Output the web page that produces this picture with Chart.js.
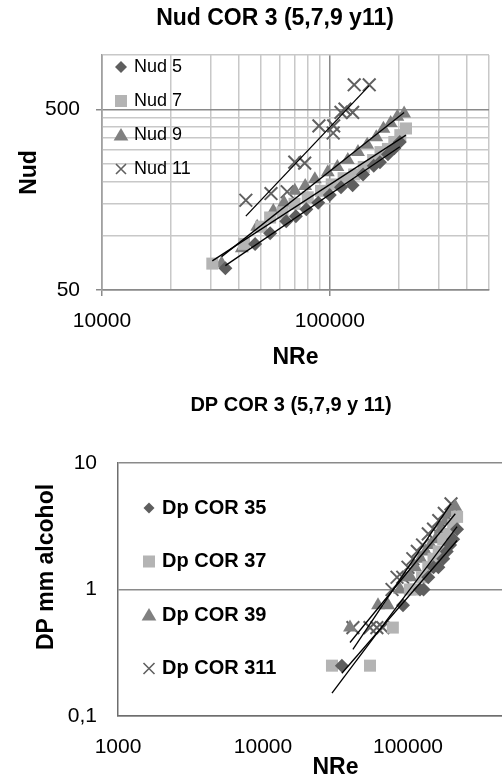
<!DOCTYPE html>
<html>
<head>
<meta charset="utf-8">
<script src="https://cdn.jsdelivr.net/npm/chart.js@4.4.1/dist/chart.umd.min.js"></script>
<style>
html, body { margin: 0; padding: 0; background: #fff; overflow: hidden; width: 502px; height: 778px; }
#top { position: absolute; left: 0; top: 0; }
#bottom { position: absolute; left: 0; top: 380px; }
</style>
</head>
<body>
<div id="top"><canvas id="nudChart" width="502" height="380"></canvas></div>
<div id="bottom"><canvas id="dpChart" width="580" height="402"></canvas></div>
<script>
// Nud vs NRe
const nre5 = [34800, 47000, 54700, 64400, 71000, 78900, 89000, 100000, 112000, 126000, 140000, 156000, 166000, 180000, 192000, 203000];
const nud5 = [66, 90, 103, 120, 128, 140, 152, 168, 185, 190, 218, 244, 255, 282, 305, 330];
const nre7 = [30500, 42000, 50000, 54700, 62000, 70000, 80000, 91500, 102000, 115000, 128000, 141000, 155000, 167000, 180000, 192000, 204000, 216000];
const nud7 = [70, 90, 112, 126, 134, 150, 163, 177, 192, 208, 218, 240, 262, 290, 302, 330, 360, 392];
const nre9 = [33500, 41100, 48000, 56500, 63000, 70200, 78000, 86000, 98000, 108000, 120000, 133000, 146000, 160000, 172000, 185000, 198000, 212000];
const nud9 = [70, 85, 112, 137, 152, 177, 188, 205, 224, 240, 262, 290, 318, 350, 390, 420, 455, 475];
const nre11 = [42800, 55200, 65000, 70200, 77600, 89600, 103500, 104000, 112000, 116600, 126000, 128000, 149000];
const nud11 = [157, 171, 175, 255, 252, 405, 370, 405, 481, 502, 481, 684, 684];

// DP vs NRe
const nreDp35 = [35000, 92400, 121000, 128000, 138000, 150000, 162000, 175000, 185000, 195000, 205000, 218000];
const dp35 = [0.25, 0.75, 1, 1, 1.25, 1.5, 1.5, 1.75, 2, 2.25, 2.5, 3];
const nreDp37 = [29900, 54700, 78600, 103000, 111700, 125000, 138000, 150000, 163000, 175000, 190000, 205000, 218000];
const dp37 = [0.25, 0.25, 0.5, 1, 1, 1.25, 1.5, 1.75, 2, 2.5, 2.75, 3.25, 3.75];
const nreDp39 = [39800, 62100, 72800, 88100, 95000, 104000, 112000, 122000, 132000, 143000, 155000, 168000, 182000, 196000, 212000];
const dp39 = [0.5, 0.75, 0.75, 1, 1.25, 1.25, 1.5, 1.75, 2, 2.25, 2.5, 3, 3.5, 4, 4.5];
const nreDp311 = [41700, 54700, 61000, 67000, 77600, 84000, 92000, 100000, 108000, 116000, 126000, 138000, 150000, 163000, 178000, 198000];
const dp311 = [0.5, 0.5, 0.5, 0.5, 1, 1.25, 1.25, 1.5, 1.75, 2, 2.25, 2.75, 3, 3.5, 4, 4.75];

// ticks
const nudXTicks = [10000, 20000, 30000, 40000, 50000, 60000, 70000, 80000, 90000, 100000, 200000, 300000, 400000, 500000];
const nudXLabeled = [10000, 100000];
const nudYTicks = [50, 100, 150, 200, 250, 300, 350, 400, 450, 500, 1000];
const nudYLabeled = [50, 500];
const dpXTicks = [1000, 10000, 100000, 1000000];
const dpXLabeled = [1000, 10000, 100000];
const dpYTicks = [0.1, 1, 10];
const dpYLabels = ['0,1', '1', '10'];

const FONT = "'Liberation Sans', Arial, sans-serif";
Chart.defaults.font.family = FONT;
Chart.defaults.color = '#000';

const DARK = '#5e5e5e', LIGHT = '#b4b4b4', MID = '#808080', CROSS = '#606060';

function powerFit(xs, ys) {
    const lx = xs.map(Math.log10), ly = ys.map(Math.log10);
    const n = xs.length;
    const mx = lx.reduce((a, b) => a + b, 0) / n;
    const my = ly.reduce((a, b) => a + b, 0) / n;
    let sxy = 0, sxx = 0;
    for (let i = 0; i < n; i++) {
        sxy += (lx[i] - mx) * (ly[i] - my);
        sxx += (lx[i] - mx) * (lx[i] - mx);
    }
    const b = sxy / sxx, a = my - b * mx;
    const x0 = Math.min(...xs), x1 = Math.max(...xs);
    return [
        { x: x0, y: Math.pow(10, a + b * Math.log10(x0)) },
        { x: x1, y: Math.pow(10, a + b * Math.log10(x1)) }
    ];
}

function pointSet(label, xs, ys, style, color, radius) {
    return {
        label: label,
        legend: true,
        data: xs.map((x, i) => ({ x: x, y: ys[i] })),
        pointStyle: style,
        pointRadius: radius,
        pointHoverRadius: radius,
        backgroundColor: color,
        borderColor: color,
        borderWidth: style === 'crossRot' ? 2 : 0,
        order: 1
    };
}

function trendSet(xs, ys) {
    return {
        label: '',
        data: powerFit(xs, ys),
        showLine: true,
        borderColor: '#000',
        borderWidth: 1.3,
        pointRadius: 0,
        order: 0
    };
}

function drawMarker(ctx, style, x, y, r, color) {
    ctx.fillStyle = color;
    ctx.strokeStyle = color;
    ctx.lineWidth = 1.6;
    ctx.beginPath();
    if (style === 'rectRot') {
        ctx.moveTo(x, y - r); ctx.lineTo(x + r, y); ctx.lineTo(x, y + r); ctx.lineTo(x - r, y);
        ctx.closePath(); ctx.fill();
    } else if (style === 'rect') {
        ctx.fillRect(x - r, y - r, 2 * r, 2 * r);
    } else if (style === 'triangle') {
        ctx.moveTo(x, y - r); ctx.lineTo(x + r * 1.05, y + r * 0.8); ctx.lineTo(x - r * 1.05, y + r * 0.8);
        ctx.closePath(); ctx.fill();
    } else {
        ctx.moveTo(x - r, y - r); ctx.lineTo(x + r, y + r);
        ctx.moveTo(x + r, y - r); ctx.lineTo(x - r, y + r);
        ctx.stroke();
    }
}

const insideLegend = {
    id: 'insideLegend',
    afterDraw(chart, args, opts) {
        const ctx = chart.ctx;
        const items = chart.data.datasets.filter(d => d.legend);
        ctx.save();
        ctx.font = opts.font;
        ctx.textBaseline = 'middle';
        items.forEach((d, i) => {
            const y = opts.y + i * opts.dy;
            drawMarker(ctx, d.pointStyle, opts.markerX, y, opts.size[d.pointStyle], d.backgroundColor);
            ctx.fillStyle = '#000';
            ctx.fillText(d.label, opts.textX, y);
        });
        ctx.restore();
    }
};

// titles placed by hand, the chart title is centred on the whole chart, not the plot
const freeTitles = {
    id: 'freeTitles',
    afterDraw(chart, args, opts) {
        const ctx = chart.ctx;
        (opts.items || []).forEach(t => {
            ctx.save();
            ctx.translate(t.x, t.y);
            if (t.rotate) ctx.rotate(-Math.PI / 2);
            ctx.font = t.font;
            ctx.fillStyle = '#000';
            ctx.textAlign = 'center';
            ctx.textBaseline = 'middle';
            ctx.fillText(t.text, 0, 0);
            ctx.restore();
        });
    }
};

// top chart
new Chart(document.getElementById('nudChart').getContext('2d'), {
    type: 'scatter',
    data: {
        datasets: [
            pointSet('Nud 5', nre5, nud5, 'rectRot', DARK, 7),
            pointSet('Nud 7', nre7, nud7, 'rect', LIGHT, 8.5),
            pointSet('Nud 9', nre9, nud9, 'triangle', MID, 8),
            pointSet('Nud 11', nre11, nud11, 'crossRot', CROSS, 9),
            trendSet(nre5, nud5),
            trendSet(nre7, nud7),
            trendSet(nre9, nud9),
            trendSet(nre11, nud11)
        ]
    },
    options: {
        responsive: false,
        animation: false,
        layout: { padding: { left: 0, right: 10, top: 55, bottom: 0 } },
        plugins: {
            legend: { display: false },
            tooltip: { enabled: false },
            insideLegend: {
                font: '18px ' + FONT,
                markerX: 121, textX: 134, y: 67, dy: 34,
                size: { rectRot: 6, rect: 6, triangle: 7, crossRot: 5 }
            },
            freeTitles: {
                items: [
                    { text: 'Nud COR 3 (5,7,9 y11)', x: 275, y: 19, font: 'bold 23px ' + FONT }
                ]
            }
        },
        scales: {
            x: {
                type: 'logarithmic',
                min: 10000,
                max: 500000,
                afterBuildTicks: s => { s.ticks = nudXTicks.map(v => ({ value: v })); },
                afterFit: s => { s.height = 90; },
                ticks: {
                    autoSkip: false, maxRotation: 0, padding: 13,
                    font: { size: 21 }, color: '#000',
                    callback: v => nudXLabeled.includes(v) ? String(v) : ''
                },
                grid: {
                    color: c => (c.tick && nudXLabeled.includes(c.tick.value)) ? '#8a8a8a' : '#c8c8c8',
                    lineWidth: 1.5,
                    tickLength: 6,
                    tickColor: c => (c.tick && nudXLabeled.includes(c.tick.value)) ? '#8a8a8a' : 'rgba(0,0,0,0)'
                },
                border: { color: '#8a8a8a', width: 1.5 },
                title: {
                    display: true, text: 'NRe', color: '#000',
                    font: { size: 23, weight: 'bold' },
                    padding: { top: 0, bottom: 9 }
                }
            },
            y: {
                type: 'logarithmic',
                min: 50,
                max: 1000,
                afterBuildTicks: s => { s.ticks = nudYTicks.map(v => ({ value: v })); },
                afterFit: s => { s.width = 102; },
                ticks: {
                    autoSkip: false, padding: 16,
                    font: { size: 21 }, color: '#000',
                    callback: v => nudYLabeled.includes(v) ? String(v) : ''
                },
                grid: {
                    color: c => (c.tick && nudYLabeled.includes(c.tick.value)) ? '#8a8a8a' : '#c8c8c8',
                    lineWidth: 1.5,
                    tickLength: 6,
                    tickColor: c => (c.tick && nudYLabeled.includes(c.tick.value)) ? '#8a8a8a' : 'rgba(0,0,0,0)'
                },
                border: { color: '#a0a0a0', width: 1.5 },
                title: {
                    display: true, text: 'Nud', color: '#000',
                    font: { size: 23, weight: 'bold' },
                    padding: { top: 16, bottom: 0 }
                }
            }
        }
    },
    plugins: [insideLegend, freeTitles]
});

// bottom chart
new Chart(document.getElementById('dpChart').getContext('2d'), {
    type: 'scatter',
    data: {
        datasets: [
            pointSet('Dp COR 35', nreDp35, dp35, 'rectRot', DARK, 7),
            pointSet('Dp COR 37', nreDp37, dp37, 'rect', LIGHT, 8.5),
            pointSet('Dp COR 39', nreDp39, dp39, 'triangle', MID, 8),
            pointSet('Dp COR 311', nreDp311, dp311, 'crossRot', CROSS, 9),
            trendSet(nreDp35, dp35),
            trendSet(nreDp37, dp37),
            trendSet(nreDp39, dp39),
            trendSet(nreDp311, dp311)
        ]
    },
    options: {
        responsive: false,
        animation: false,
        layout: { padding: { left: 0, right: 27, top: 83, bottom: 0 } },
        plugins: {
            legend: { display: false },
            tooltip: { enabled: false },
            insideLegend: {
                font: 'bold 20px ' + FONT,
                markerX: 149, textX: 162, y: 128, dy: 53.5,
                size: { rectRot: 5.5, rect: 6, triangle: 7, crossRot: 5.5 }
            },
            freeTitles: {
                items: [
                    { text: 'DP COR 3 (5,7,9 y 11)', x: 291, y: 25, font: 'bold 20px ' + FONT },
                    { text: 'DP mm alcohol', x: 47, y: 187, font: 'bold 23px ' + FONT, rotate: true }
                ]
            }
        },
        scales: {
            x: {
                type: 'logarithmic',
                min: 1000,
                max: 1000000,
                afterBuildTicks: s => { s.ticks = dpXTicks.map(v => ({ value: v })); },
                afterFit: s => { s.height = 66; },
                ticks: {
                    autoSkip: false, maxRotation: 0, padding: 19,
                    font: { size: 21 }, color: '#000',
                    callback: v => dpXLabeled.includes(v) ? String(v) : ''
                },
                grid: { display: false, drawTicks: false },
                border: { color: '#6e6e6e', width: 1.5 },
                title: {
                    display: true, text: 'NRe', color: '#000',
                    font: { size: 23, weight: 'bold' },
                    padding: { top: 0, bottom: 1 }
                }
            },
            y: {
                type: 'logarithmic',
                min: 0.1,
                max: 10,
                afterBuildTicks: s => { s.ticks = dpYTicks.map(v => ({ value: v })); },
                afterFit: s => { s.width = 118; },
                ticks: {
                    autoSkip: false, padding: 21,
                    font: { size: 21 }, color: '#000',
                    callback: (v, i) => dpYLabels[i]
                },
                grid: { color: '#8a8a8a', lineWidth: 1.5, drawTicks: false },
                border: { color: '#6e6e6e', width: 1.5 }
            }
        }
    },
    plugins: [insideLegend, freeTitles]
});
</script>
</body>
</html>
